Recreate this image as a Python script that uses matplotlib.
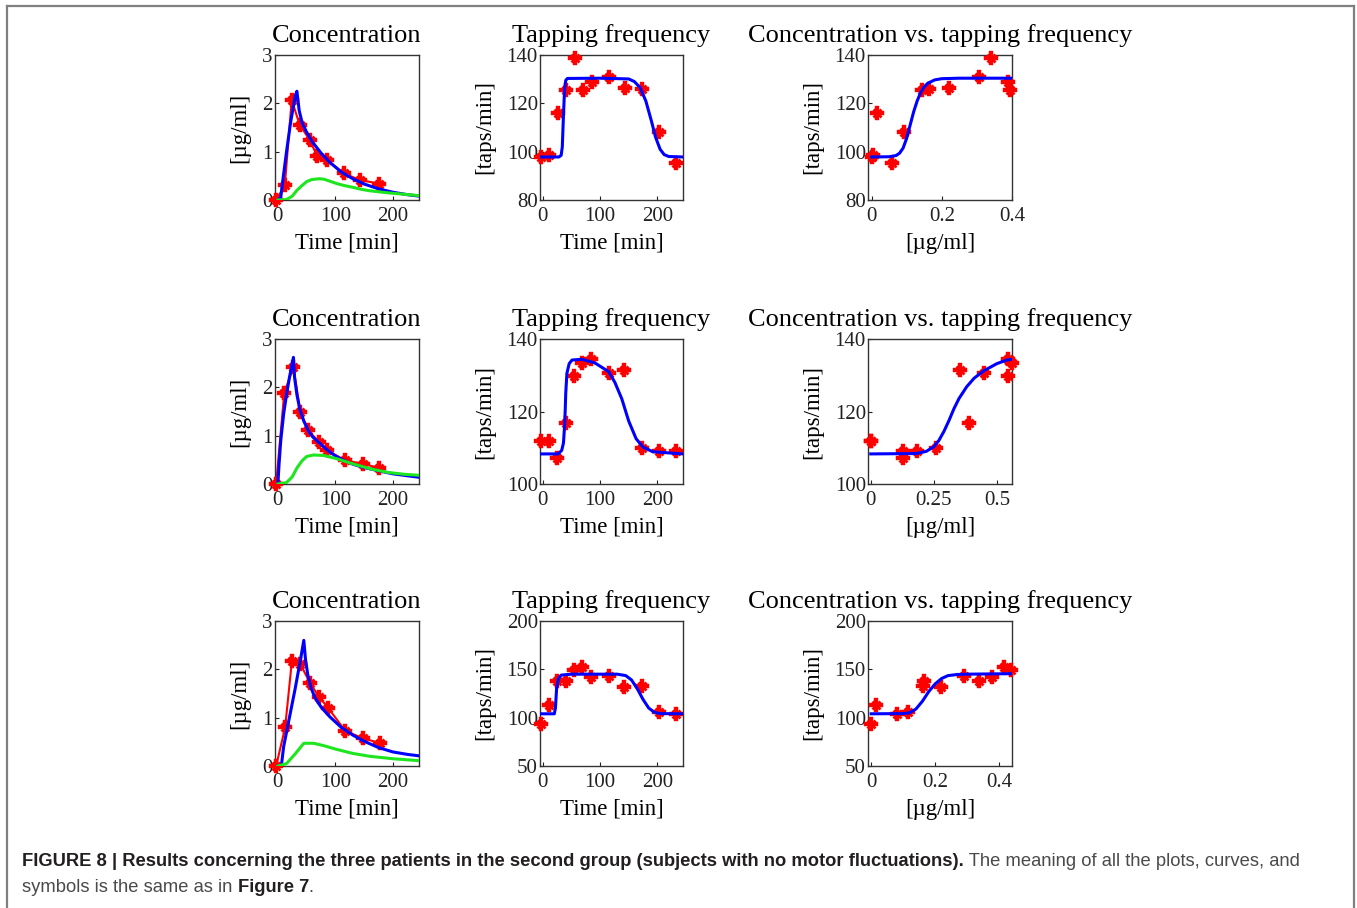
import matplotlib
matplotlib.use("Agg")
import matplotlib.pyplot as plt
from matplotlib.lines import Line2D

# ---------------- data ----------------
# Row 1 (patient 1)
conc_t1 = [-3, 12, 24, 38, 55, 68, 85, 115, 143, 176]
conc_y1 = [0.0, 0.30, 2.07, 1.55, 1.25, 0.91, 0.83, 0.55, 0.41, 0.34]
pk_t1 = [0, 5, 8, 15, 22, 30, 33, 37, 42, 50, 60, 75, 90, 110, 130, 150, 175, 200, 225, 245]
pk_y1 = [0.0, 0.05, 0.35, 1.0, 1.6, 2.15, 2.25, 1.85, 1.6, 1.4, 1.2, 0.97, 0.78, 0.58, 0.44, 0.33, 0.23, 0.16, 0.11, 0.08]
ce_t1 = [0, 15, 25, 33, 42, 50, 58, 64, 72, 80, 90, 102, 115, 131, 145, 160, 175, 189, 204, 218, 232, 245]
ce_y1 = [0.0, 0.01, 0.08, 0.2, 0.3, 0.38, 0.42, 0.43, 0.44, 0.43, 0.39, 0.34, 0.3, 0.26, 0.22, 0.19, 0.17, 0.15, 0.135, 0.12, 0.105, 0.09]
tap_t1 = [-3, 11, 27, 41, 57, 71, 86, 116, 143, 173, 203, 233]
tap_y1 = [97.8, 98.5, 116, 125.5, 138.8, 125.5, 128.8, 130.8, 126.5, 125.8, 108.2, 95.4]
tapfit_t1 = [-5, 28, 32, 34, 36, 38, 40, 43, 100, 150, 160, 170, 180, 190, 197, 205, 212, 220, 245]
tapfit_y1 = [97.8, 97.8, 98.5, 102, 115, 126, 129.5, 130.3, 130.4, 130.1, 129, 126.5, 121, 112.5, 106, 101, 98.8, 98.0, 97.8]
ce_pts1 = [0.0, 0.004, 0.016, 0.143, 0.34, 0.395, 0.39, 0.307, 0.22, 0.164, 0.092, 0.057]
pd_c1 = [0, 0.05, 0.07, 0.08, 0.09, 0.10, 0.11, 0.12, 0.13, 0.14, 0.15, 0.16, 0.18, 0.20, 0.25, 0.40]
pd_y1 = [97.8, 97.9, 98.4, 99.4, 101.5, 105.5, 111, 116.5, 121, 124.5, 126.8, 128.3, 129.7, 130.2, 130.4, 130.4]

# Row 2 (patient 2)
conc_t2 = [-3, 11, 27, 39, 53, 71, 86, 116, 147, 176]
conc_y2 = [0.0, 1.88, 2.42, 1.49, 1.11, 0.87, 0.70, 0.49, 0.42, 0.33]
pk_t2 = [0, 2, 5, 10, 15, 20, 27, 29, 33, 38, 45, 53, 60, 71, 86, 100, 116, 130, 150, 176, 200, 225, 245]
pk_y2 = [0.0, 0.4, 0.9, 1.45, 1.85, 2.2, 2.62, 2.2, 1.85, 1.55, 1.3, 1.1, 0.98, 0.86, 0.70, 0.58, 0.48, 0.41, 0.34, 0.27, 0.21, 0.17, 0.14]
ce_t2 = [0, 15, 25, 33, 42, 50, 62, 80, 103, 132, 162, 191, 220, 245]
ce_y2 = [0.0, 0.03, 0.15, 0.33, 0.48, 0.57, 0.6, 0.59, 0.52, 0.41, 0.31, 0.24, 0.2, 0.18]
tap_t2 = [-3, 10, 25, 40, 55, 69, 85, 115, 142, 173, 203, 233]
tap_y2 = [112, 112, 107.3, 116.9, 129.9, 133.4, 134.6, 130.6, 131.5, 109.9, 109.2, 109.2]
tapfit_t2 = [-5, 27, 33, 36, 38, 39, 40, 42, 46, 51, 68, 91, 115, 126, 138, 150, 163, 175, 192, 245]
tapfit_y2 = [108.3, 108.3, 109.3, 111.3, 116, 120, 125, 130.5, 133.2, 134.2, 134.4, 133.4, 131, 128, 123.5, 117.4, 112.5, 110.2, 108.9, 108.3]
ce_pts2 = [0.0, 0.002, 0.128, 0.39, 0.543, 0.56, 0.543, 0.45, 0.355, 0.26, 0.185, 0.128]
pd_c2 = [0, 0.18, 0.22, 0.25, 0.27, 0.29, 0.31, 0.33, 0.35, 0.38, 0.41, 0.45, 0.50, 0.54, 0.56]
pd_y2 = [108.3, 108.4, 109, 110.3, 112, 114.5, 117.5, 120.8, 123.6, 126.8, 129.2, 131.3, 133.2, 134.2, 134.4]

# Row 3 (patient 3)
conc_t3 = [-3, 12.6, 24.4, 39, 55.6, 71.5, 87.4, 116.8, 148, 177.4]
conc_y3 = [0.0, 0.80, 2.18, 2.11, 1.72, 1.43, 1.20, 0.73, 0.57, 0.475]
pk_t3 = [0, 6, 7, 10, 20, 30, 40, 45, 48, 52, 58, 65, 75, 90, 110, 130, 150, 175, 200, 225, 245]
pk_y3 = [0.0, 0.0, 0.1, 0.4, 1.0, 1.6, 2.25, 2.6, 2.2, 1.88, 1.6, 1.4, 1.22, 1.02, 0.8, 0.64, 0.51, 0.38, 0.29, 0.24, 0.21]
ce_t3 = [0, 15, 30, 45, 62, 80, 100, 130, 160, 200, 245]
ce_y3 = [0.0, 0.05, 0.25, 0.47, 0.47, 0.42, 0.35, 0.26, 0.2, 0.15, 0.11]
tap_t3 = [-3, 10, 25, 40, 55, 69, 85, 115, 142, 173, 203, 233]
tap_y3 = [93.3, 113.5, 137.6, 137.6, 149.5, 152.8, 142.3, 143, 132.2, 133, 106.3, 103.4]
tapfit_t3 = [-5, 20, 22, 24, 27, 32, 50, 130, 145, 155, 165, 175, 185, 195, 205, 245]
tapfit_y3 = [104, 104, 110, 130, 140, 144, 145, 145, 143.5, 139, 130, 119, 110, 105.5, 104.2, 104]
ce_pts3 = [0.0, 0.014, 0.165, 0.338, 0.437, 0.416, 0.377, 0.29, 0.219, 0.163, 0.114, 0.082]
pd_c3 = [0, 0.10, 0.12, 0.14, 0.16, 0.18, 0.20, 0.22, 0.24, 0.27, 0.30, 0.44]
pd_y3 = [104, 104.2, 105, 109, 117, 127, 135, 140.5, 143.5, 144.7, 145, 145.5]

rows = [
    dict(conc_t=conc_t1, conc_y=conc_y1, pk_t=pk_t1, pk_y=pk_y1, ce_t=ce_t1, ce_y=ce_y1,
         tap_t=tap_t1, tap_y=tap_y1, tapfit_t=tapfit_t1, tapfit_y=tapfit_y1,
         ce_pts=ce_pts1, pd_c=pd_c1, pd_y=pd_y1,
         tap_lim=(80, 140), tap_ticks=[80, 100, 120, 140],
         c_lim=(-0.01, 0.40), c_ticks=[0, 0.2, 0.4], c_labels=["0", "0.2", "0.4"]),
    dict(conc_t=conc_t2, conc_y=conc_y2, pk_t=pk_t2, pk_y=pk_y2, ce_t=ce_t2, ce_y=ce_y2,
         tap_t=tap_t2, tap_y=tap_y2, tapfit_t=tapfit_t2, tapfit_y=tapfit_y2,
         ce_pts=ce_pts2, pd_c=pd_c2, pd_y=pd_y2,
         tap_lim=(100, 140), tap_ticks=[100, 120, 140],
         c_lim=(-0.011, 0.56), c_ticks=[0, 0.25, 0.5], c_labels=["0", "0.25", "0.5"]),
    dict(conc_t=conc_t3, conc_y=conc_y3, pk_t=pk_t3, pk_y=pk_y3, ce_t=ce_t3, ce_y=ce_y3,
         tap_t=tap_t3, tap_y=tap_y3, tapfit_t=tapfit_t3, tapfit_y=tapfit_y3,
         ce_pts=ce_pts3, pd_c=pd_c3, pd_y=pd_y3,
         tap_lim=(50, 200), tap_ticks=[50, 100, 150, 200],
         c_lim=(-0.01, 0.44), c_ticks=[0, 0.2, 0.4], c_labels=["0", "0.2", "0.4"]),
]

# ---------------- style ----------------
SERIF = ["Liberation Serif", "DejaVu Serif"]
plt.rcParams["font.family"] = SERIF
TICK_FS = 15
LAB_FS = 16.5
TITLE_FS = 19
RED = "#ff0000"
BLUE = "#0000ff"
GREEN = "#1ee61e"

W, H = 1357, 908
fig = plt.figure(figsize=(W / 100, H / 100), dpi=100)

col_left = [275, 540, 868]
col_w = [144, 143, 144]
row_top = [55, 339, 621]
ax_h = 145


def add_ax(lpx, tpx, wpx, hpx):
    return fig.add_axes([lpx / W, 1 - (tpx + hpx) / H, wpx / W, hpx / H])


def style(ax):
    for s in ax.spines.values():
        s.set_color("#333333")
        s.set_linewidth(1.0)
    ax.tick_params(direction="in", length=3, width=0.8, labelsize=TICK_FS,
                   colors="#222222", top=False, right=False)
    ax.tick_params(axis="x", pad=5)
    ax.tick_params(axis="y", pad=1.5)


def markers(ax, x, y):
    ax.plot(x, y, linestyle="none", marker="P", ms=9.5, color=RED, mec=RED, mew=0.3, zorder=5, clip_on=False)
    ax.plot(x, y, linestyle="none", marker="x", ms=5.5, color=RED, mew=2.0, zorder=5, clip_on=False)


for r, d in enumerate(rows):
    top = row_top[r]
    # Concentration
    ax = add_ax(col_left[0], top, col_w[0], ax_h)
    ax.plot(d["conc_t"], d["conc_y"], color=RED, lw=1.5, zorder=2)
    markers(ax, d["conc_t"], d["conc_y"])
    ax.plot(d["pk_t"], d["pk_y"], color=BLUE, lw=2.2, zorder=6)
    ax.plot(d["ce_t"], d["ce_y"], color=GREEN, lw=2.2, zorder=6)
    ax.set_xlim(-5, 245)
    ax.set_ylim(0, 3)
    ax.set_xticks([0, 100, 200])
    ax.set_yticks([0, 1, 2, 3])
    ax.set_title("Concentration", fontsize=TITLE_FS, pad=9.5)
    ax.set_xlabel("Time [min]", fontsize=LAB_FS)
    ax.set_ylabel("[\u00b5g/ml]", fontsize=LAB_FS)
    ax.xaxis.set_label_coords(0.5, -0.225)
    ax.yaxis.set_label_coords(-0.17, 0.5)
    style(ax)

    # Tapping frequency
    ax = add_ax(col_left[1], top, col_w[1], ax_h)
    markers(ax, d["tap_t"], d["tap_y"])
    ax.plot(d["tapfit_t"], d["tapfit_y"], color=BLUE, lw=2.2, zorder=6)
    ax.set_xlim(-5, 245)
    ax.set_ylim(*d["tap_lim"])
    ax.set_xticks([0, 100, 200])
    ax.set_yticks(d["tap_ticks"])
    ax.set_title("Tapping frequency", fontsize=TITLE_FS, pad=9.5)
    ax.set_xlabel("Time [min]", fontsize=LAB_FS)
    ax.set_ylabel("[taps/min]", fontsize=LAB_FS)
    ax.xaxis.set_label_coords(0.5, -0.225)
    ax.yaxis.set_label_coords(-0.31, 0.5)
    style(ax)

    # Concentration vs tapping
    ax = add_ax(col_left[2], top, col_w[2], ax_h)
    markers(ax, d["ce_pts"], d["tap_y"])
    ax.plot(d["pd_c"], d["pd_y"], color=BLUE, lw=2.2, zorder=6)
    ax.set_xlim(*d["c_lim"])
    ax.set_ylim(*d["tap_lim"])
    ax.set_xticks(d["c_ticks"])
    ax.set_xticklabels(d["c_labels"])
    ax.set_yticks(d["tap_ticks"])
    ax.set_title("Concentration vs. tapping frequency", fontsize=TITLE_FS, pad=9.5)
    ax.set_xlabel("[\u00b5g/ml]", fontsize=LAB_FS)
    ax.set_ylabel("[taps/min]", fontsize=LAB_FS)
    ax.xaxis.set_label_coords(0.5, -0.225)
    ax.yaxis.set_label_coords(-0.31, 0.5)
    style(ax)

# ---------------- frame ----------------
frame_kw = dict(color="#808080", lw=1.6, transform=fig.transFigure)
fig.add_artist(Line2D([7 / W, 7 / W], [0, 1 - 6 / H], **frame_kw))
fig.add_artist(Line2D([7 / W, 1354 / W], [1 - 6 / H, 1 - 6 / H], **frame_kw))
fig.add_artist(Line2D([1354 / W, 1354 / W], [0, 1 - 6 / H], **frame_kw))

# ---------------- caption ----------------
CAP = ["Liberation Sans", "DejaVu Sans"]
CAP_FS = 13.2
renderer = fig.canvas.get_renderer()


def chain(pieces, x_px, y_px):
    x = x_px
    for txt, bold in pieces:
        t = fig.text(x / W, 1 - y_px / H, txt, fontsize=CAP_FS, family=CAP,
                     fontweight="bold" if bold else "normal",
                     color="#231f20" if bold else "#4a4a4a", va="baseline", ha="left")
        bb = t.get_window_extent(renderer=renderer)
        x = bb.x1


chain([("FIGURE 8 | Results concerning the three patients in the second group (subjects with no motor fluctuations).", True),
       (" The meaning of all the plots, curves, and", False)], 22, 866)
chain([("symbols is the same as in ", False), ("Figure 7", True), (".", False)], 22, 892)

fig.savefig("out.png", dpi=100)
